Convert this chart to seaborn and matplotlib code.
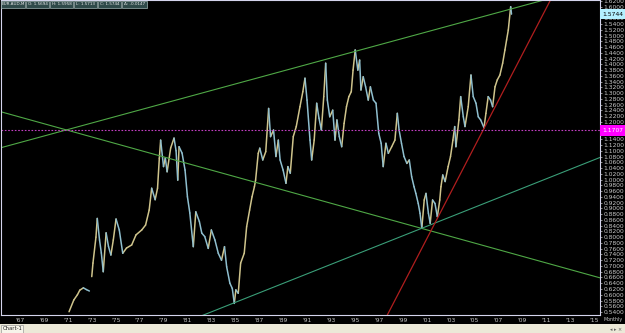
import numpy as np
import pandas as pd
import matplotlib
matplotlib.use("Agg")
import matplotlib.pyplot as plt
import seaborn as sns
from matplotlib.patches import Rectangle

sns.set_theme(style="dark")
plt.rcParams["font.family"] = ["DejaVu Sans"]

# ---------------- data ----------------
seg1_year = [1971.1, 1971.5, 1971.8, 1972.0, 1972.3, 1972.55, 1972.8]
seg1_price = [0.541, 0.582, 0.600, 0.616, 0.624, 0.618, 0.613]

seg2_year = [
    1973.0, 1973.1, 1973.35, 1973.46, 1973.65, 1973.8, 1973.96, 1974.2, 1974.4, 1974.6,
    1974.8, 1975.03, 1975.3, 1975.59, 1975.9, 1976.34, 1976.7, 1977.18, 1977.5, 1977.8,
    1978.01, 1978.3, 1978.5, 1978.65, 1978.76, 1979.0, 1979.15, 1979.3, 1979.6, 1979.88,
    1980.05, 1980.19, 1980.3, 1980.55, 1980.8, 1981.0, 1981.2, 1981.49, 1981.7, 1982.0,
    1982.2, 1982.45, 1982.74, 1983.0, 1983.3, 1983.58, 1983.85, 1984.1, 1984.28, 1984.55,
    1984.75, 1984.92, 1985.05, 1985.25, 1985.45, 1985.75, 1985.95, 1986.2, 1986.4, 1986.6,
    1986.7, 1986.92, 1987.05, 1987.3, 1987.55, 1987.79, 1987.95, 1988.2, 1988.4, 1988.6,
    1988.75, 1989.0, 1989.24, 1989.4, 1989.6, 1989.85, 1990.1, 1990.41, 1990.65, 1990.83,
    1991.0, 1991.25, 1991.39, 1991.6, 1991.81, 1992.0, 1992.2, 1992.4, 1992.56, 1992.7,
    1992.9, 1993.15, 1993.34, 1993.5, 1993.7, 1993.9, 1994.1, 1994.3, 1994.5, 1994.7,
    1994.85, 1995.03, 1995.25, 1995.4, 1995.51, 1995.7, 1995.9, 1996.12, 1996.3, 1996.55,
    1996.77, 1997.0, 1997.2, 1997.37, 1997.6, 1997.8, 1998.08, 1998.35, 1998.55, 1998.7,
    1998.9, 1999.11, 1999.35, 1999.55, 1999.75, 1999.95, 2000.1, 2000.3, 2000.45, 2000.6,
    2000.8, 2000.95, 2001.15, 2001.3, 2001.5, 2001.7, 2001.9, 2002.1, 2002.2, 2002.35,
    2002.55, 2002.8, 2003.0, 2003.2, 2003.35, 2003.45, 2003.7, 2003.85, 2004.07, 2004.21,
    2004.48, 2004.71, 2004.9, 2005.13, 2005.32, 2005.52, 2005.8, 2005.96, 2006.15, 2006.35,
    2006.52, 2006.72, 2006.91, 2007.13, 2007.36, 2007.55, 2007.69, 2007.83, 2008.03, 2008.1,
]
seg2_price = [
    0.663, 0.710, 0.800, 0.865, 0.790, 0.745, 0.680, 0.815, 0.767, 0.738,
    0.790, 0.863, 0.825, 0.744, 0.762, 0.773, 0.808, 0.825, 0.842, 0.894,
    0.970, 0.930, 0.970, 1.074, 1.137, 1.045, 1.075, 1.027, 1.110, 1.144,
    1.100, 0.998, 1.114, 1.092, 1.033, 0.940, 0.884, 0.767, 0.888, 0.854,
    0.814, 0.802, 0.761, 0.825, 0.790, 0.744, 0.720, 0.767, 0.697, 0.640,
    0.622, 0.570, 0.617, 0.605, 0.710, 0.744, 0.836, 0.894, 0.940, 0.975,
    0.998, 1.091, 1.109, 1.068, 1.097, 1.247, 1.149, 1.172, 1.080, 1.137,
    1.068, 1.033, 0.987, 1.045, 1.022, 1.149, 1.184, 1.253, 1.305, 1.352,
    1.276, 1.137, 1.068, 1.137, 1.265, 1.213, 1.172, 1.288, 1.404, 1.276,
    1.218, 1.241, 1.137, 1.207, 1.149, 1.114, 1.195, 1.253, 1.288, 1.305,
    1.380, 1.450, 1.380, 1.415, 1.311, 1.357, 1.322, 1.276, 1.322, 1.276,
    1.265, 1.160, 1.126, 1.045, 1.126, 1.091, 1.114, 1.137, 1.230, 1.172,
    1.126, 1.080, 1.056, 1.068, 1.010, 0.975, 0.952, 0.917, 0.883, 0.831,
    0.929, 0.952, 0.883, 0.848, 0.929, 0.917, 0.871, 0.929, 0.975, 1.016,
    0.993, 1.045, 1.080, 1.137, 1.184, 1.114, 1.207, 1.288, 1.218, 1.184,
    1.253, 1.363, 1.288, 1.265, 1.218, 1.207, 1.180, 1.230, 1.288, 1.276,
    1.253, 1.322, 1.346, 1.363, 1.404, 1.450, 1.485, 1.519, 1.600, 1.5744,
]

# trend lines (year, price at the two ends)
upper_year, upper_price = [1965.0, 2016.0], [1.106, 1.682]
desc_year, desc_price = [1965.0, 2016.0], [1.240, 0.653]
lower_year, lower_price = [1982.0, 2016.0], [0.524, 1.085]
red_year, red_price = [1997.5, 2012.0], [0.5126, 1.6748]
hline_price = 1.1707
last_price = 1.5744

xtick_years = list(range(1967, 2016, 2))
xtick_labels = ["'" + str(y)[2:] for y in xtick_years]
ytick_values = [round(0.54 + 0.02 * i, 2) for i in range(55)]

header = ["EUR.AUD,M", "O: 1.5694", "H: 1.5958", "L: 1.5713", "C: 1.5744", "Δ: -0.0147"]

# ---------------- build segment table ----------------
rows = []
sid = 0
for ys, ps in [(seg1_year, seg1_price), (seg2_year, seg2_price)]:
    for i in range(len(ys) - 1):
        d = "up" if ps[i + 1] >= ps[i] else "down"
        rows.append((sid, d, ys[i], ps[i]))
        rows.append((sid, d, ys[i + 1], ps[i + 1]))
        sid += 1
df = pd.DataFrame(rows, columns=["seg", "dir", "year", "price"])

# ---------------- figure ----------------
W, H = 625, 333
fig = plt.figure(figsize=(W / 100, H / 100), dpi=100, facecolor="black")
ax = fig.add_axes([1 / W, 1 - 315 / H, 599 / W, 315 / H])
ax.set_facecolor("black")

sns.lineplot(data=df, x="year", y="price", units="seg", hue="dir",
             palette={"up": "#cfc48c", "down": "#8fbfcf"}, estimator=None,
             sort=False, legend=False, linewidth=1.1, ax=ax)

line_kw = dict(legend=False, ax=ax, estimator=None, sort=False)
sns.lineplot(x=upper_year, y=upper_price, color="#4fa846", linewidth=0.8, **line_kw)
sns.lineplot(x=desc_year, y=desc_price, color="#4fa846", linewidth=0.8, **line_kw)
sns.lineplot(x=lower_year, y=lower_price, color="#3a9e78", linewidth=0.8, **line_kw)
sns.lineplot(x=red_year, y=red_price, color="#b01e1e", linewidth=0.9, **line_kw)
ax.axhline(hline_price, color="#c23ec2", linewidth=0.8, linestyle=(0, (1.5, 1.5)))

ax.set_xlim(1965.41, 2015.5)
ax.set_ylim(0.5297, 1.6235)
ax.set_xlabel("")
ax.set_ylabel("")

# ticks
ax.yaxis.tick_right()
shown = [v for v in ytick_values
         if abs(v - last_price) > 0.011 and abs(v - hline_price) > 0.011]
ax.set_yticks(shown)
ax.set_yticklabels([f"{v:.4f}" for v in shown])
ax.set_xticks(xtick_years)
ax.set_xticklabels(xtick_labels)
ax.tick_params(axis="y", colors="#c8c8c8", labelsize=4.3, length=1.5, width=0.5, pad=1.2)
ax.tick_params(axis="x", colors="#c8c8c8", labelsize=4.3, length=0, pad=2.0)
ax.grid(False)
for s in ax.spines.values():
    s.set_color("#d4d4ec")
    s.set_linewidth(0.8)
    s.set_visible(True)

# price boxes on the right
ytr = ax.get_yaxis_transform()
ax.text(1.004, last_price, "1.5744", transform=ytr, fontsize=4.3, color="#000000",
        va="center", ha="left", clip_on=False,
        bbox=dict(boxstyle="square,pad=0.45", facecolor="#b4f0ff", edgecolor="none"))
ax.text(1.004, hline_price, "1.1707", transform=ytr, fontsize=4.3, color="#ffffff",
        va="center", ha="left", clip_on=False,
        bbox=dict(boxstyle="square,pad=0.45", facecolor="#ff00ff", edgecolor="none"))

# header boxes
x0 = 1.0
widths = [25, 24, 24, 24, 24, 26]
for txt, w in zip(header, widths):
    fig.text((x0 + w / 2) / W, 1 - 4 / H, txt, fontsize=3.0, color="#e8e8e8",
             va="center", ha="center")
    fig.patches.append(Rectangle((x0 / W, 1 - 7.5 / H), (w - 1) / W, 7 / H,
                                 transform=fig.transFigure, facecolor="#2f4a4a",
                                 edgecolor="#9fb4b4", linewidth=0.5, zorder=0.5))
    x0 += w

# bottom strip
fig.patches.append(Rectangle((0, 0), 1, 9 / H, transform=fig.transFigure,
                             facecolor="#ece9d8", edgecolor="none"))
fig.patches.append(Rectangle((1 / W, 0.5 / H), 22 / W, 7.5 / H, transform=fig.transFigure,
                             facecolor="#f6f4ea", edgecolor="#9a9a9a", linewidth=0.5))
fig.text(3 / W, 4.3 / H, "Chart-1", fontsize=3.8, color="#202020", va="center", ha="left")
fig.text(622 / W, 3.5 / H, "◂ ▸ ×", fontsize=3.5, color="#606060", va="center", ha="right")
fig.text(623 / W, 1 - 320 / H, "Monthly", fontsize=3.4, color="#c8c8c8", va="center", ha="right")

fig.savefig("out.png", dpi=100, facecolor="black")
